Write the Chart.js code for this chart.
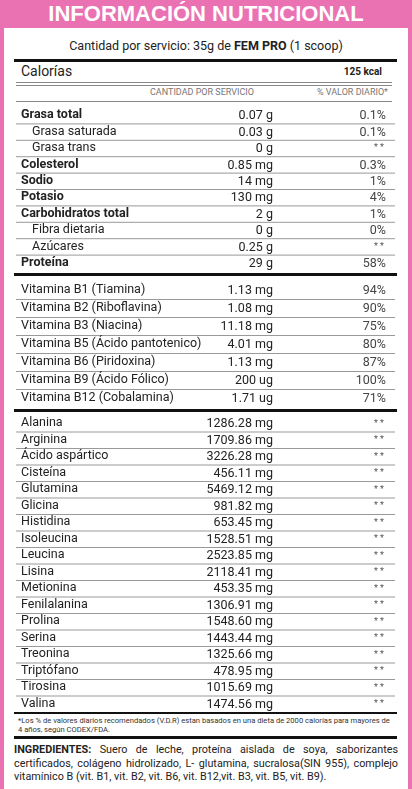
<!DOCTYPE html>
<html><head><meta charset="utf-8">
<script src="https://cdn.jsdelivr.net/npm/chart.js@4"></script>
<style>
body{margin:0;width:412px;height:789px;background:#ea72b3;font-family:Roboto,"Liberation Sans",sans-serif;color:#222;overflow:hidden}
#panel{position:absolute;left:4px;top:28px;width:404px;height:761px;background:#fff}
.abs{position:absolute}
#title{left:0;top:0;width:412px;height:28px;text-align:center;color:#fff;font:bold 22px "Liberation Sans",Arial,sans-serif;line-height:27px}
.ln{position:absolute;left:14px;width:383px;background:#111}
.cv{position:absolute;left:14px;width:383px}
</style></head><body>
<div class="abs" id="title">INFORMACIÓN NUTRICIONAL</div>
<div id="panel"></div>
<div class="abs" style="left:0;width:412px;top:38px;text-align:center;font-size:12.5px">Cantidad por servicio: 35g de <b>FEM PRO</b> (1 scoop)</div>
<div class="ln" style="top:59px;height:3px"></div>
<div class="abs" style="left:21px;top:63px;font-size:14px">Calorías</div>
<div class="abs" style="left:300px;width:82px;text-align:right;top:66px;font-size:10px;font-weight:bold">125 kcal</div>
<div class="ln" style="top:82px;height:1px;background:#888;left:16px;width:376px"></div>
<div class="ln" style="top:85px;height:1px;background:#888;left:16px;width:376px"></div>
<div class="abs" style="left:150px;top:87px;font-size:9px;color:#777">CANTIDAD POR SERVICIO</div>
<div class="abs" style="left:300px;width:88px;text-align:right;top:87px;font-size:9px;color:#777">% VALOR DIARIO*</div>
<div class="ln" style="top:101px;height:1px;background:#888;left:16px;width:376px"></div>
<div class="cv" style="top:107px;height:164px"><canvas id="c1"></canvas></div>
<div class="ln" style="top:273px;height:3px"></div>
<div class="cv" style="top:281px;height:126px"><canvas id="c2"></canvas></div>
<div class="ln" style="top:409px;height:3px"></div>
<div class="cv" style="top:415px;height:297px"><canvas id="c3"></canvas></div>
<div class="ln" style="top:712px;height:2px"></div>
<div class="abs" style="left:18px;width:372px;top:716px;font-size:7.6px;line-height:9px;color:#333">*Los % de valores diarios recomendados (V.D.R) estan basados en una dieta de 2000 calorías para mayores de 4 años, según CODEX/FDA.</div>
<div class="ln" style="top:736px;height:3px"></div>
<div class="abs" style="left:14px;width:384px;top:743px;font-size:10.8px;line-height:13.5px;text-align:justify;color:#222"><b>INGREDIENTES:</b> Suero de leche, proteína aislada de soya, saborizantes certificados, colágeno hidrolizado, L- glutamina, sucralosa(SIN 955), complejo vitamínico B (vit. B1, vit. B2, vit. B6, vit. B12,vit. B3, vit. B5, vit. B9).</div>
<script>
const nutrientNames=["Grasa total","Grasa saturada","Grasa trans","Colesterol","Sodio","Potasio","Carbohidratos total","Fibra dietaria","Azúcares","Proteína"];
const nutrientAmounts=["0.07 g","0.03 g","0 g","0.85 mg","14 mg","130 mg","2 g","0 g","0.25 g","29 g"];
const nutrientPercents=["0.1%","0.1%","* *","0.3%","1%","4%","1%","0%","* *","58%"];
const nutrientIndent=[0,1,1,0,0,0,0,1,1,0];
const vitaminNames=["Vitamina B1 (Tiamina)","Vitamina B2 (Riboflavina)","Vitamina B3 (Niacina)","Vitamina B5 (Ácido pantotenico)","Vitamina B6 (Piridoxina)","Vitamina B9 (Ácido Fólico)","Vitamina B12 (Cobalamina)"];
const vitaminAmounts=["1.13 mg","1.08 mg","11.18 mg","4.01 mg","1.13 mg","200 ug","1.71 ug"];
const vitaminPercents=["94%","90%","75%","80%","87%","100%","71%"];
const aminoNames=["Alanina","Arginina","Ácido aspártico","Cisteína","Glutamina","Glicina","Histidina","Isoleucina","Leucina","Lisina","Metionina","Fenilalanina","Prolina","Serina","Treonina","Triptófano","Tirosina","Valina"];
const aminoAmounts=["1286.28 mg","1709.86 mg","3226.28 mg","456.11 mg","5469.12 mg","981.82 mg","653.45 mg","1528.51 mg","2523.85 mg","2118.41 mg","453.35 mg","1306.91 mg","1548.60 mg","1443.44 mg","1325.66 mg","478.95 mg","1015.69 mg","1474.56 mg"];
const aminoPercents=aminoNames.map(()=>"* *");

function makeTable(id,names,amounts,percents,opts){
  const rowPlugin={id:'rows',afterDraw(chart){
    const c=chart.ctx,y=chart.scales.y,a=chart.chartArea;
    const step=y.getPixelForValue(1)-y.getPixelForValue(0);
    c.save();c.textBaseline='middle';
    names.forEach((n,i)=>{
      const py=y.getPixelForValue(i);
      if(i<names.length-1){c.fillStyle='#999';c.fillRect(a.left+2,py+step/2,a.right-a.left-4,1);}
      const ind=opts.indent&&opts.indent[i];
      const bold=opts.bold&&!ind;
      c.fillStyle='#222';
      c.font=(bold?'bold ':'')+opts.size+'px Roboto, sans-serif';
      c.textAlign='left';
      c.fillText(n,a.left+(ind?18:7),py);
      c.font=opts.size+'px Roboto, sans-serif';
      c.textAlign='right';
      c.fillText(amounts[i],a.left+259,py+1);
      if(percents[i]==='* *'){c.font='9px Roboto, sans-serif';c.fillStyle='#555';c.fillText('* *',a.left+370,py);}
      else{c.fillStyle='#444';c.fillText(percents[i],a.left+372,py+1);}
    });
    c.restore();
  }};
  new Chart(document.getElementById(id),{type:'bar',
    data:{labels:names,datasets:[{data:names.map(()=>0),backgroundColor:'rgba(0,0,0,0)'}]},
    options:{indexAxis:'y',responsive:true,maintainAspectRatio:false,animation:false,
      layout:{padding:0},plugins:{legend:{display:false},tooltip:{enabled:false}},
      scales:{x:{display:false,min:0,max:1},y:{display:false}}},
    plugins:[rowPlugin]});
}
makeTable('c1',nutrientNames,nutrientAmounts,nutrientPercents,{bold:true,indent:nutrientIndent,size:12.5});
makeTable('c2',vitaminNames,vitaminAmounts,vitaminPercents,{bold:false,indent:null,size:12.5});
makeTable('c3',aminoNames,aminoAmounts,aminoPercents,{bold:false,indent:null,size:12.5});
</script></body></html>
